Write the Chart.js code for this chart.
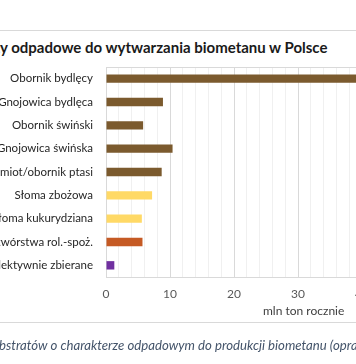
<!DOCTYPE HTML>
<html lang="pl">
<head>
    <meta charset="UTF-8">
    <title>Substraty odpadowe</title>
    <script src="https://cdn.jsdelivr.net/npm/chart.js"></script>
    <style>
        body {
            margin: 0;
            padding: 0;
            width: 356px;
            height: 364px;
            overflow: hidden;
            background: #fff;
            position: relative;
            font-family: Lato, "Open Sans", sans-serif;
        }
        .line {
            position: absolute;
            left: 0;
            width: 356px;
            height: 1px;
            background: #d9d9d9;
        }
        #title {
            position: absolute;
            top: 38px;
            white-space: nowrap;
            font-weight: bold;
            font-size: 15px;
            color: #1a1a1a;
        }
        #unit {
            position: absolute;
            top: 303px;
            left: 263px;
            white-space: nowrap;
            font-size: 12px;
            color: #404040;
        }
        #caption {
            position: absolute;
            top: 337px;
            white-space: nowrap;
            font-style: italic;
            font-size: 13.2px;
            color: #44546a;
        }
        #wrap {
            position: absolute;
            top: 31px;
            left: 0;
            width: 460px;
            height: 290px;
        }
    </style>
</head>
<body>
<div class="line" style="top:30px"></div>
<div id="title">Substraty odpadowe do wytwarzania biometanu w Polsce</div>
<div id="wrap"><canvas id="chart"></canvas></div>
<div id="unit">mln ton rocznie</div>
<div class="line" style="top:322px"></div>
<div id="caption">substratów o charakterze odpadowym do produkcji biometanu (opracowanie własne)</div>

<script>
    // kategorie i wartości (mln ton rocznie)
    var labels = ['Obornik bydlęcy', 'Gnojowica bydlęca', 'Obornik świński', 'Gnojowica świńska',
        'Pomiot/obornik ptasi', 'Słoma zbożowa', 'Słoma kukurydziana',
        'Odpady z przetwórstwa rol.-spoż.', 'Bioodpady selektywnie zbierane'];
    var values = [44, 8.9, 5.8, 10.4, 8.7, 7.2, 5.6, 5.7, 1.3];
    var colors = ['#7b5a2e', '#7b5a2e', '#7b5a2e', '#7b5a2e', '#7b5a2e',
        '#ffd966', '#ffd966', '#c55a24', '#7030a0'];
    var xTicks = [0, 10, 20, 30, 40, 50];

    // przesunięcie tytułu i podpisu, tak jak na wyciętym obrazku
    var m = document.createElement('canvas').getContext('2d');
    m.font = 'bold 15px Lato';
    document.getElementById('title').style.left = -m.measureText('Substrat').width + 'px';
    m.font = 'italic 13.2px Lato';
    document.getElementById('caption').style.left = -(m.measureText('su').width + 1) + 'px';

    // ramka obszaru wykresu
    var frame = {
        id: 'frame',
        beforeDatasetsDraw: function(chart) {
            var a = chart.chartArea, c = chart.ctx;
            c.save();
            c.strokeStyle = '#d9d9d9';
            c.lineWidth = 1;
            c.strokeRect(Math.round(a.left) + 0.5, Math.round(a.top) + 0.5,
                Math.round(a.right - a.left), Math.round(a.bottom - a.top));
            c.restore();
        }
    };

    var ctx = document.getElementById('chart').getContext('2d');
    var chart = new Chart(ctx, {
        type: 'bar',
        data: {
            labels: labels,
            datasets: [{
                data: values,
                backgroundColor: colors,
                barPercentage: 0.36,
                categoryPercentage: 1
            }]
        },
        plugins: [frame],
        options: {
            indexAxis: 'y',
            responsive: true,
            maintainAspectRatio: false,
            animation: false,
            layout: { padding: { top: 36, right: 34, bottom: 0, left: 0 } },
            plugins: {
                legend: { display: false },
                tooltip: { enabled: false }
            },
            scales: {
                x: {
                    min: 0,
                    max: 50,
                    afterFit: function(s) { s.height = 44; },
                    afterBuildTicks: function(s) {
                        var t = [];
                        for (var v = 0; v <= 50; v += 2) t.push({ value: v });
                        s.ticks = t;
                    },
                    border: { display: false },
                    grid: {
                        drawTicks: false,
                        color: function(c) {
                            return xTicks.indexOf(c.tick.value) >= 0 ? '#d9d9d9' : '#f0f0f0';
                        }
                    },
                    ticks: {
                        autoSkip: false,
                        maxRotation: 0,
                        padding: 10,
                        color: '#595959',
                        font: { family: 'Lato', size: 12 },
                        callback: function(v) {
                            return xTicks.indexOf(v) >= 0 ? v : '';
                        }
                    }
                },
                y: {
                    afterFit: function(s) { s.width = 106; },
                    border: { display: false },
                    grid: { display: false, drawTicks: false },
                    ticks: {
                        padding: 13,
                        color: '#262626',
                        font: { family: 'Lato', size: 11.5 }
                    }
                }
            }
        }
    });
</script>
</body>
</html>
